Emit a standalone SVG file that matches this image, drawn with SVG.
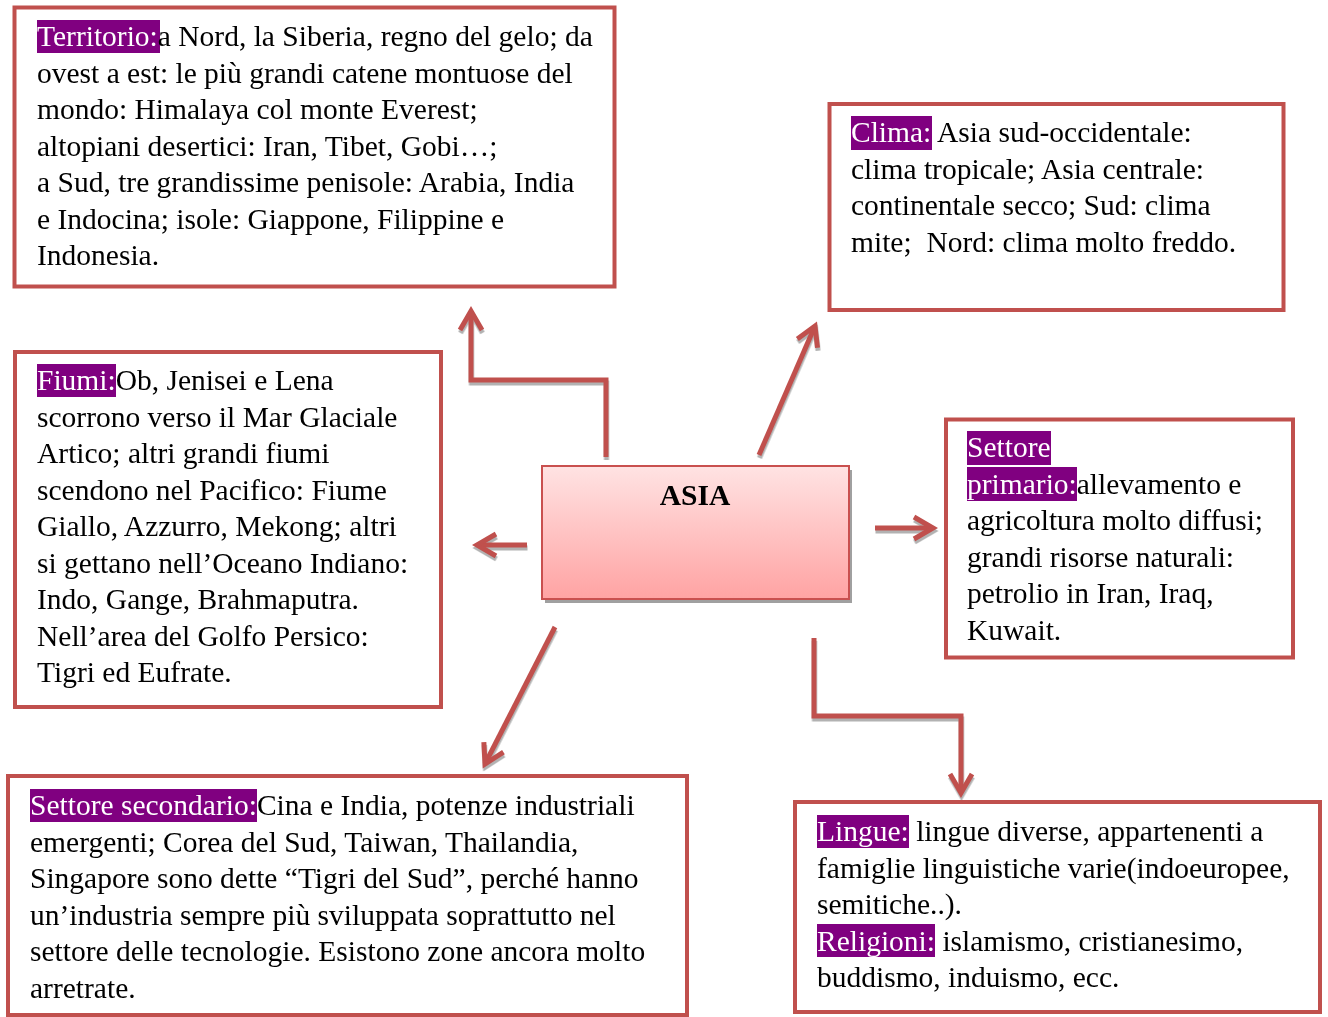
<svg xmlns="http://www.w3.org/2000/svg" width="1328" height="1017" viewBox="0 0 1328 1017">
  <defs>
    <style>
      .box { fill: #ffffff; stroke: #C0504D; stroke-width: 4; }
      .txt { font-family: "Liberation Serif", "Times New Roman", serif; font-size: 29.5px; fill: #000000; white-space: pre; }
      .lbl { fill: #ffffff; }
      .hl { fill: #800080; }
      .wire { fill: none; stroke: #C0504D; stroke-width: 5; stroke-linejoin: miter; }
      .wire-shadow { fill: none; stroke: #9a9a9a; stroke-width: 5; stroke-linejoin: miter; opacity: 0.85; }
    </style>
    <linearGradient id="centerFill" x1="0" y1="0" x2="0" y2="1">
      <stop offset="0" stop-color="#FFE3E3"/>
      <stop offset="1" stop-color="#FFA3A3"/>
    </linearGradient>
    <marker id="head" markerUnits="userSpaceOnUse" orient="auto" refX="0" refY="0" markerWidth="40" markerHeight="40" viewBox="-30 -20 40 40" overflow="visible">
      <path d="M-19,-11 L0,0 L-19,11" fill="none" stroke="#C0504D" stroke-width="5" stroke-linejoin="miter"/>
    </marker>
    <marker id="head-shadow" markerUnits="userSpaceOnUse" orient="auto" refX="0" refY="0" markerWidth="40" markerHeight="40" viewBox="-30 -20 40 40" overflow="visible">
      <path d="M-19,-11 L0,0 L-19,11" fill="none" stroke="#9a9a9a" stroke-width="5" stroke-linejoin="miter"/>
    </marker>
    <path id="w1" d="M606,457 V380 H471 V311"/>
    <path id="w2" d="M759,455 L815,326"/>
    <path id="w3" d="M875,528 H933"/>
    <path id="w4" d="M527,545 H477"/>
    <path id="w5" d="M555,627 L485,764"/>
    <path id="w6" d="M814,638 V716 H961 V793"/>
  </defs>

  <rect width="1328" height="1017" fill="#ffffff"/>

  <!-- connectors: grey drop shadow first, red strokes on top -->
  <g id="connectors">
    <g transform="translate(0.5,3)" opacity="0.9">
      <use href="#w1" class="wire-shadow" marker-end="url(#head-shadow)"/>
      <use href="#w2" class="wire-shadow" marker-end="url(#head-shadow)"/>
      <use href="#w3" class="wire-shadow" marker-end="url(#head-shadow)"/>
      <use href="#w4" class="wire-shadow" marker-end="url(#head-shadow)"/>
      <use href="#w5" class="wire-shadow" marker-end="url(#head-shadow)"/>
      <use href="#w6" class="wire-shadow" marker-end="url(#head-shadow)"/>
    </g>
    <use href="#w1" class="wire" marker-end="url(#head)"/>
    <use href="#w2" class="wire" marker-end="url(#head)"/>
    <use href="#w3" class="wire" marker-end="url(#head)"/>
    <use href="#w4" class="wire" marker-end="url(#head)"/>
    <use href="#w5" class="wire" marker-end="url(#head)"/>
    <use href="#w6" class="wire" marker-end="url(#head)"/>
  </g>

  <!-- central node -->
  <g id="asia">
    <rect x="545" y="470" width="307" height="133" fill="#a0a0a0"/>
    <rect x="542" y="466" width="307" height="133" fill="url(#centerFill)" stroke="#C9504F" stroke-width="2"/>
    <text x="695" y="505" text-anchor="middle" class="txt" font-weight="bold">ASIA</text>
  </g>

  <g id="territorio">
    <rect class="box" x="14.5" y="7.5" width="600" height="279"/>
    <rect class="hl" x="37" y="20" width="123" height="33"/>
    <text class="txt">
      <tspan x="37" y="46"><tspan class="lbl">Territorio:</tspan>a Nord, la Siberia, regno del gelo; da</tspan>
      <tspan x="37" y="82.5">ovest a est: le più grandi catene montuose del</tspan>
      <tspan x="37" y="119">mondo: Himalaya col monte Everest;</tspan>
      <tspan x="37" y="155.5">altopiani desertici: Iran, Tibet, Gobi…;</tspan>
      <tspan x="37" y="192">a Sud, tre grandissime penisole: Arabia, India</tspan>
      <tspan x="37" y="228.5">e Indocina; isole: Giappone, Filippine e</tspan>
      <tspan x="37" y="265">Indonesia.</tspan>
    </text>
  </g>

  <g id="clima">
    <rect class="box" x="829.5" y="104" width="454" height="206"/>
    <rect class="hl" x="851" y="116" width="81" height="34"/>
    <text class="txt">
      <tspan x="851" y="142"><tspan class="lbl">Clima:</tspan> Asia sud-occidentale:</tspan>
      <tspan x="851" y="178.5">clima tropicale; Asia centrale:</tspan>
      <tspan x="851" y="215">continentale secco; Sud: clima</tspan>
      <tspan x="851" y="251.5">mite;  Nord: clima molto freddo.</tspan>
    </text>
  </g>

  <g id="fiumi">
    <rect class="box" x="15" y="352" width="426" height="355"/>
    <rect class="hl" x="37" y="364" width="79" height="33"/>
    <text class="txt">
      <tspan x="37" y="390"><tspan class="lbl">Fiumi:</tspan>Ob, Jenisei e Lena</tspan>
      <tspan x="37" y="426.5">scorrono verso il Mar Glaciale</tspan>
      <tspan x="37" y="463">Artico; altri grandi fiumi</tspan>
      <tspan x="37" y="499.5">scendono nel Pacifico: Fiume</tspan>
      <tspan x="37" y="536">Giallo, Azzurro, Mekong; altri</tspan>
      <tspan x="37" y="572.5">si gettano nell’Oceano Indiano:</tspan>
      <tspan x="37" y="609">Indo, Gange, Brahmaputra.</tspan>
      <tspan x="37" y="645.5">Nell’area del Golfo Persico:</tspan>
      <tspan x="37" y="682">Tigri ed Eufrate.</tspan>
    </text>
  </g>

  <g id="settore-primario">
    <rect class="box" x="946" y="419.5" width="347" height="238"/>
    <rect class="hl" x="967" y="431" width="84" height="34"/>
    <rect class="hl" x="967" y="467" width="110" height="34"/>
    <text class="txt">
      <tspan x="967" y="457" class="lbl">Settore</tspan>
      <tspan x="967" y="493.5"><tspan class="lbl">primario:</tspan>allevamento e</tspan>
      <tspan x="967" y="530">agricoltura molto diffusi;</tspan>
      <tspan x="967" y="566.5">grandi risorse naturali:</tspan>
      <tspan x="967" y="603">petrolio in Iran, Iraq,</tspan>
      <tspan x="967" y="639.5">Kuwait.</tspan>
    </text>
  </g>

  <g id="settore-secondario">
    <rect class="box" x="8" y="776" width="679" height="239"/>
    <rect class="hl" x="30" y="789" width="227" height="33"/>
    <text class="txt">
      <tspan x="30" y="815"><tspan class="lbl">Settore secondario:</tspan>Cina e India, potenze industriali</tspan>
      <tspan x="30" y="851.5">emergenti; Corea del Sud, Taiwan, Thailandia,</tspan>
      <tspan x="30" y="888">Singapore sono dette “Tigri del Sud”, perché hanno</tspan>
      <tspan x="30" y="924.5">un’industria sempre più sviluppata soprattutto nel</tspan>
      <tspan x="30" y="961">settore delle tecnologie. Esistono zone ancora molto</tspan>
      <tspan x="30" y="997.5">arretrate.</tspan>
    </text>
  </g>

  <g id="lingue">
    <rect class="box" x="795" y="802" width="525" height="210"/>
    <rect class="hl" x="817" y="815" width="92" height="33"/>
    <rect class="hl" x="817" y="924" width="118" height="33"/>
    <text class="txt">
      <tspan x="817" y="841"><tspan class="lbl">Lingue:</tspan> lingue diverse, appartenenti a</tspan>
      <tspan x="817" y="877.5">famiglie linguistiche varie(indoeuropee,</tspan>
      <tspan x="817" y="914">semitiche..).</tspan>
      <tspan x="817" y="950.5"><tspan class="lbl">Religioni:</tspan> islamismo, cristianesimo,</tspan>
      <tspan x="817" y="987">buddismo, induismo, ecc.</tspan>
    </text>
  </g>
</svg>
